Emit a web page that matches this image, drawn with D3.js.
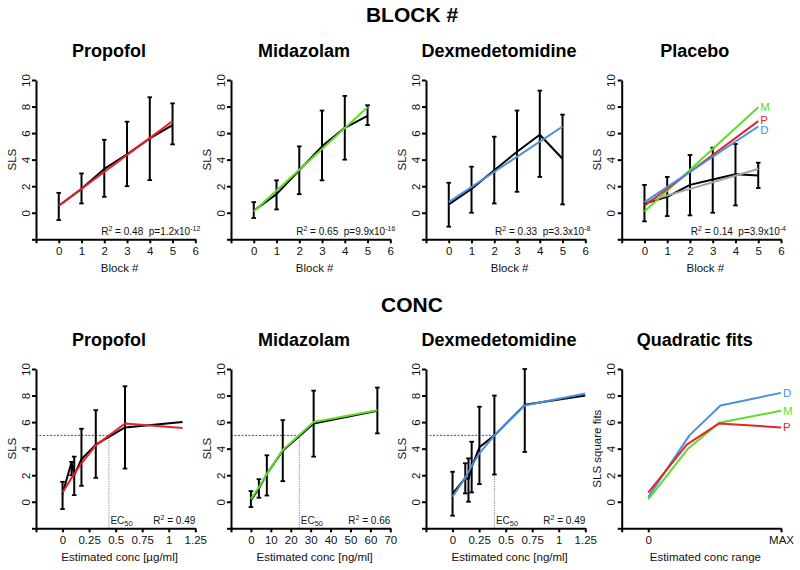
<!DOCTYPE html>
<html><head><meta charset="utf-8">
<script src="https://cdn.jsdelivr.net/npm/d3@7"></script>
<style>body{margin:0;background:#fff} text{font-family:"Liberation Sans",Arial,sans-serif}</style>
</head><body><svg id="c" width="800" height="570"></svg>
<script>
// ---------- DATA ----------
const blockX = [0, 1, 2, 3, 4, 5];
const fitX = [0, 5];
const propBlockMean = [0.53, 1.8, 3.3, 4.4, 5.6, 6.6];
const propBlockLo   = [-0.55, 0.7, 1.2, 2.0, 2.46, 5.15];
const propBlockHi   = [1.5, 2.96, 5.5, 6.86, 8.7, 8.24];
const propBlockFit  = [0.53, 6.9];
const midBlockMean = [0.15, 1.4, 3.2, 5.0, 6.4, 7.3];
const midBlockLo   = [-0.4, 0.25, 1.4, 2.44, 4.0, 6.6];
const midBlockHi   = [0.8, 2.44, 5.0, 7.7, 8.8, 8.1];
const midBlockFit  = [0.1, 7.95];
const dexBlockMean = [0.63, 1.8, 3.2, 4.6, 5.88, 4.07];
const dexBlockLo   = [-1.05, 0.0, 0.7, 1.58, 2.7, 0.63];
const dexBlockHi   = [2.26, 3.47, 5.73, 7.7, 9.2, 7.39];
const dexBlockFit  = [0.8, 6.5];
const plaBlockMean = [0.7, 1.2, 2.1, 2.5, 2.9, 2.8];
const plaBlockLo   = [-0.65, -0.25, -0.2, 0.0, 0.55, 1.86];
const plaBlockHi   = [2.1, 2.7, 4.35, 4.9, 5.18, 3.77];
const plaBlockFit  = [0.8, 3.3];

const propConcX    = [0, 0.085, 0.11, 0.178, 0.313, 0.588, 1.13];
const propConcMean = [0.6, 3.0, 2.0, 3.2, 4.3, 5.6, 6.0];
const propConcLo   = [-0.55, 2.0, 0.5, 1.2, 1.8, 2.5, null];
const propConcHi   = [1.5, 3.0, 3.4, 5.5, 6.9, 8.7, null];
const propConcFit  = [0.7, 1.8, 2.1, 2.9, 4.25, 5.9, 5.55];
const midConcX    = [0, 4, 8, 16, 31.5, 63.5];
const midConcMean = [0.1, 1.0, 2.1, 3.85, 5.9, 6.85];
const midConcLo   = [-0.4, 0.3, 0.47, 1.55, 3.4, 5.15];
const midConcHi   = [0.8, 1.7, 3.5, 6.15, 8.37, 8.6];
const midConcFit  = [0.2, 1.1, 2.1, 3.9, 6.0, 6.9];
const dexConcX    = [0, 0.12, 0.15, 0.18, 0.253, 0.394, 0.68, 1.25];
const dexConcMean = [0.6, 1.8, 1.7, 2.6, 4.1, 5.0, 7.3, 8.0];
const dexConcLo   = [-1.05, 0.63, 0.0, 0.7, 1.33, 2.05, 3.75, null];
const dexConcHi   = [2.26, 2.9, 3.27, 4.52, 7.16, 8.0, 10.0, null];
const dexConcFit  = [0.38, 1.8, 2.25, 2.7, 3.65, 5.0, 7.25, 8.15];
const ec50 = { prop: 0.437, mid: 24.3, dex: 0.394 };

const quadPX = [0, 0.29, 0.534, 1], quadP = [0.68, 4.3, 5.9, 5.6];
const quadMX = [0, 0.30, 0.534, 1], quadM = [0.18, 4.0, 5.95, 6.85];
const quadDX = [0, 0.31, 0.544, 1], quadD = [0.35, 5.0, 7.25, 8.2];

const blockTicks = [-1, 0, 1, 2, 3, 4, 5, 6];
const ugTicks = [-0.25, 0, 0.25, 0.5, 0.75, 1, 1.25];
const ngTicks = [-10, 0, 10, 20, 30, 40, 50, 60, 70];
const quadTicks = [-0.2, 0, 1];
const quadTickLabels = { "0": "0", "1": "MAX" };
const yTicks = [-2, 0, 2, 4, 6, 8, 10];

const RED = "#e5252b", GREEN = "#5fdc2a", BLUE = "#4b8fe3", GRAY = "#a3a3a3";

// ---------- DRAWING ----------
const svg = d3.select("#c");
const lefts = [36, 231, 426, 621.7];
const W = 159.3;
const yRanges = [[239.3, 80], [528.3, 369]];

svg.append("text").attr("x", 412).attr("y", 22).attr("text-anchor", "middle")
  .attr("font-size", 21).attr("font-weight", "bold").text("BLOCK #");
svg.append("text").attr("x", 412).attr("y", 312).attr("text-anchor", "middle")
  .attr("font-size", 21).attr("font-weight", "bold").text("CONC");

function panel(o) {
  const left = lefts[o.col];
  const g = svg.append("g");
  const x = d3.scaleLinear().domain(o.xDomain).range([left, left + W]);
  const y = d3.scaleLinear().domain([-2, 10]).range(yRanges[o.row]);
  const titleY = o.row === 0 ? 57 : 346;
  g.append("text").attr("x", left + 73).attr("y", titleY).attr("text-anchor", "middle")
    .attr("font-size", 18).attr("font-weight", "bold").text(o.title);

  const xa = g.append("g").attr("transform", `translate(0,${y(-2)})`)
    .call(d3.axisBottom(x).tickValues(o.xTicks).tickFormat(o.fmt).tickSize(4).tickSizeOuter(0));
  const ya = g.append("g").attr("transform", `translate(${left},0)`)
    .call(d3.axisLeft(y).tickValues(yTicks).tickFormat(d => d < 0 ? "" : d).tickSize(4).tickSizeOuter(0));
  [xa, ya].forEach(a => {
    a.select(".domain").attr("stroke", "#000").attr("stroke-width", 2);
    a.selectAll(".tick line").attr("stroke", "#000").attr("stroke-width", 2);
    a.selectAll(".tick text").attr("font-size", 11.5).attr("fill", "#111")
      .attr("font-family", '"Liberation Sans",Arial,sans-serif');
  });
  xa.selectAll(".tick text").attr("y", 8);
  ya.selectAll(".tick text").attr("x", null).attr("dy", null)
    .attr("text-anchor", "middle").attr("transform", "translate(-6.5,0) rotate(-90)");

  g.append("text").attr("x", left + W / 2 + 4).attr("y", o.row === 0 ? 272 : 561)
    .attr("text-anchor", "middle").attr("font-size", 11.5).attr("fill", "#111").text(o.xlabel);
  const ym = (yRanges[o.row][0] + yRanges[o.row][1]) / 2;
  g.append("text").attr("transform", `translate(${left - 20.5},${ym}) rotate(-90)`)
    .attr("text-anchor", "middle").attr("font-size", 11.5).attr("fill", "#111").text(o.ylabel);

  if (o.ec50 != null) {
    g.append("line").attr("x1", left).attr("x2", x(o.ec50)).attr("y1", y(5)).attr("y2", y(5))
      .attr("stroke", "#222").attr("stroke-width", 0.8).attr("stroke-dasharray", "2,1.5");
    g.append("line").attr("x1", x(o.ec50)).attr("x2", x(o.ec50)).attr("y1", y(5)).attr("y2", y(-2))
      .attr("stroke", "#666").attr("stroke-width", 0.8).attr("stroke-dasharray", "1.2,1.2");
    const t = g.append("text").attr("x", x(o.ec50) + 1.5).attr("y", y(-2) - 4.5)
      .attr("font-size", 10).attr("fill", "#222");
    t.append("tspan").text("EC");
    t.append("tspan").attr("font-size", 7.5).attr("dy", 2).text("50");
  }

  if (o.lo) {
    o.xs.forEach((xv, i) => {
      if (o.lo[i] == null) return;
      const cx = x(xv);
      g.append("line").attr("x1", cx).attr("x2", cx).attr("y1", y(o.lo[i])).attr("y2", y(o.hi[i]))
        .attr("stroke", "#000").attr("stroke-width", 2);
      [o.lo[i], o.hi[i]].forEach(v => g.append("line").attr("x1", cx - 2.3).attr("x2", cx + 2.3)
        .attr("y1", y(v)).attr("y2", y(v)).attr("stroke", "#000").attr("stroke-width", 1.8));
    });
  }
  const line = d3.line().x(d => x(d[0])).y(d => y(d[1]));
  (o.lines || []).forEach(L => {
    g.append("path").attr("d", line(L.x.map((xv, i) => [xv, L.y[i]])))
      .attr("fill", "none").attr("stroke", L.color).attr("stroke-width", L.w || 2)
      .attr("stroke-linejoin", "round");
    if (L.label) {
      const n = L.x.length - 1;
      g.append("text").attr("x", x(L.x[n]) + (L.lx || 2)).attr("y", y(L.y[n]) + (L.ly || 0))
        .attr("dy", "0.35em").attr("font-size", 11.5).attr("fill", L.color).text(L.label);
    }
  });

  if (o.r2) {
    const t = g.append("text").attr("x", left + W + (o.row === 0 ? 5 : 0)).attr("y", y(-2) - 4)
      .attr("text-anchor", "end").attr("font-size", 10).attr("fill", "#111").style("white-space", "pre");
    t.append("tspan").text("R");
    t.append("tspan").attr("font-size", 7).attr("dy", -4).text("2");
    t.append("tspan").attr("dy", 4).text(" = " + o.r2 + (o.p ? "  p=" + o.p[0] + "x10" : ""));
    if (o.p) t.append("tspan").attr("font-size", 7).attr("dy", -4).text(o.p[1]);
  }
}

const blkFmt = d => d < 0 ? "" : d;
panel({ row: 0, col: 0, title: "Propofol", xDomain: [-1, 6], xTicks: blockTicks, fmt: blkFmt,
  xlabel: "Block #", ylabel: "SLS", xs: blockX, lo: propBlockLo, hi: propBlockHi,
  lines: [{ x: blockX, y: propBlockMean, color: "#000" }, { x: fitX, y: propBlockFit, color: RED }],
  r2: "0.48", p: ["1.2", "-12"] });
panel({ row: 0, col: 1, title: "Midazolam", xDomain: [-1, 6], xTicks: blockTicks, fmt: blkFmt,
  xlabel: "Block #", ylabel: "SLS", xs: blockX, lo: midBlockLo, hi: midBlockHi,
  lines: [{ x: blockX, y: midBlockMean, color: "#000" }, { x: fitX, y: midBlockFit, color: GREEN }],
  r2: "0.65", p: ["9.9", "-16"] });
panel({ row: 0, col: 2, title: "Dexmedetomidine", xDomain: [-1, 6], xTicks: blockTicks, fmt: blkFmt,
  xlabel: "Block #", ylabel: "SLS", xs: blockX, lo: dexBlockLo, hi: dexBlockHi,
  lines: [{ x: blockX, y: dexBlockMean, color: "#000" }, { x: fitX, y: dexBlockFit, color: BLUE }],
  r2: "0.33", p: ["3.3", "-8"] });
panel({ row: 0, col: 3, title: "Placebo", xDomain: [-1, 6], xTicks: blockTicks, fmt: blkFmt,
  xlabel: "Block #", ylabel: "SLS", xs: blockX, lo: plaBlockLo, hi: plaBlockHi,
  lines: [{ x: blockX, y: plaBlockMean, color: "#000" }, { x: fitX, y: plaBlockFit, color: GRAY },
    { x: fitX, y: midBlockFit, color: GREEN, label: "M", lx: 2, ly: 0 },
    { x: fitX, y: propBlockFit, color: RED, label: "P", lx: 2, ly: -1.5 },
    { x: fitX, y: dexBlockFit, color: BLUE, label: "D", lx: 2, ly: 4 }],
  r2: "0.14", p: ["3.9", "-4"] });

const ugFmt = d => d < 0 ? "" : String(d);
panel({ row: 1, col: 0, title: "Propofol", xDomain: [-0.25, 1.25], xTicks: ugTicks, fmt: ugFmt,
  xlabel: "Estimated conc [\u00b5g/ml]", ylabel: "SLS", xs: propConcX, lo: propConcLo, hi: propConcHi,
  lines: [{ x: propConcX, y: propConcMean, color: "#000" }, { x: propConcX, y: propConcFit, color: RED }],
  ec50: ec50.prop, r2: "0.49" });
panel({ row: 1, col: 1, title: "Midazolam", xDomain: [-10, 70], xTicks: ngTicks, fmt: ugFmt,
  xlabel: "Estimated conc [ng/ml]", ylabel: "SLS", xs: midConcX, lo: midConcLo, hi: midConcHi,
  lines: [{ x: midConcX, y: midConcMean, color: "#000" }, { x: midConcX, y: midConcFit, color: GREEN }],
  ec50: ec50.mid, r2: "0.66" });
panel({ row: 1, col: 2, title: "Dexmedetomidine", xDomain: [-0.25, 1.25], xTicks: ugTicks, fmt: ugFmt,
  xlabel: "Estimated conc [ng/ml]", ylabel: "SLS", xs: dexConcX, lo: dexConcLo, hi: dexConcHi,
  lines: [{ x: dexConcX, y: dexConcMean, color: "#000" }, { x: dexConcX, y: dexConcFit, color: BLUE }],
  ec50: ec50.dex, r2: "0.49" });
panel({ row: 1, col: 3, title: "Quadratic fits", xDomain: [-0.2, 1], xTicks: quadTicks,
  fmt: d => quadTickLabels[String(d)] || "",
  xlabel: "Estimated conc range", ylabel: "SLS square fits",
  lines: [{ x: quadDX, y: quadD, color: BLUE, label: "D" },
    { x: quadMX, y: quadM, color: GREEN, label: "M" },
    { x: quadPX, y: quadP, color: RED, label: "P" }] });
</script></body></html>
